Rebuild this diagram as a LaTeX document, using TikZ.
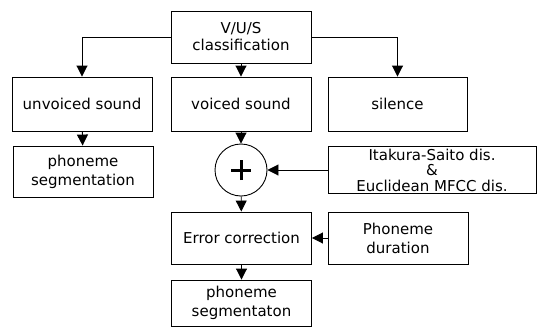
\documentclass[tikz,border=0pt]{standalone}
\usepackage{fontspec}
\setmainfont{DejaVu Sans}
\usetikzlibrary{arrows.meta}

\begin{document}
\begin{tikzpicture}[x=1pt, y=-1pt, line width=0.9pt, font=\fontsize{15}{19}\selectfont,
        box/.style = {draw, minimum width=140pt, minimum height=52pt, align=center, inner sep=0pt},
        arr/.style = {-{Triangle[width=11pt,length=11pt]}}]
    \useasboundingbox (0,0) rectangle (538,327);

    \node[box, font=\fontsize{15}{17}\selectfont] (vus) at (241,37) {V/U/S\\classification};
    \node[box, minimum height=54pt] (unv) at (82,104) {unvoiced sound};
    \node[box, minimum height=54pt] (voi) at (241,104) {voiced sound};
    \node[box, minimum width=139pt, minimum height=54pt] (sil) at (397.5,104) {silence};
    \node[box, minimum height=51pt] (seg1) at (83,171.5) {phoneme\\segmentation};
    \node[draw, circle, minimum size=52pt, inner sep=0pt] (sum) at (241,170) {};
    \node[box, minimum width=208pt, minimum height=47pt, font=\fontsize{15}{15.5}\selectfont] (dist) at (432,170) {Itakura-Saito dis.\\\&\\Euclidean MFCC dis.};
    \node[box] (err) at (241.5,238) {Error correction};
    \node[box] (dur) at (398,238) {Phoneme\\duration};
    \node[box, minimum height=46pt] (seg2) at (241.5,303) {phoneme\\segmentaton};

    % plus sign
    \draw[line width=3pt] ([xshift=-10pt]sum.center) -- ([xshift=10pt]sum.center);
    \draw[line width=3pt] ([yshift=-10pt]sum.center) -- ([yshift=10pt]sum.center);

    \draw[arr] (vus.west) -| (unv.north);
    \draw[arr] (vus.east) -| (sil.north);
    \draw[arr] (vus) -- (voi);
    \draw[arr] (unv) -- (seg1);
    \draw[arr] (voi) -- (sum);
    \draw[arr] (dist.west |- sum) -- (sum.east);
    \draw[arr] (sum) -- (err);
    \draw[arr] (dur) -- (err);
    \draw[arr] (err) -- (seg2);

\end{tikzpicture}
\end{document}
